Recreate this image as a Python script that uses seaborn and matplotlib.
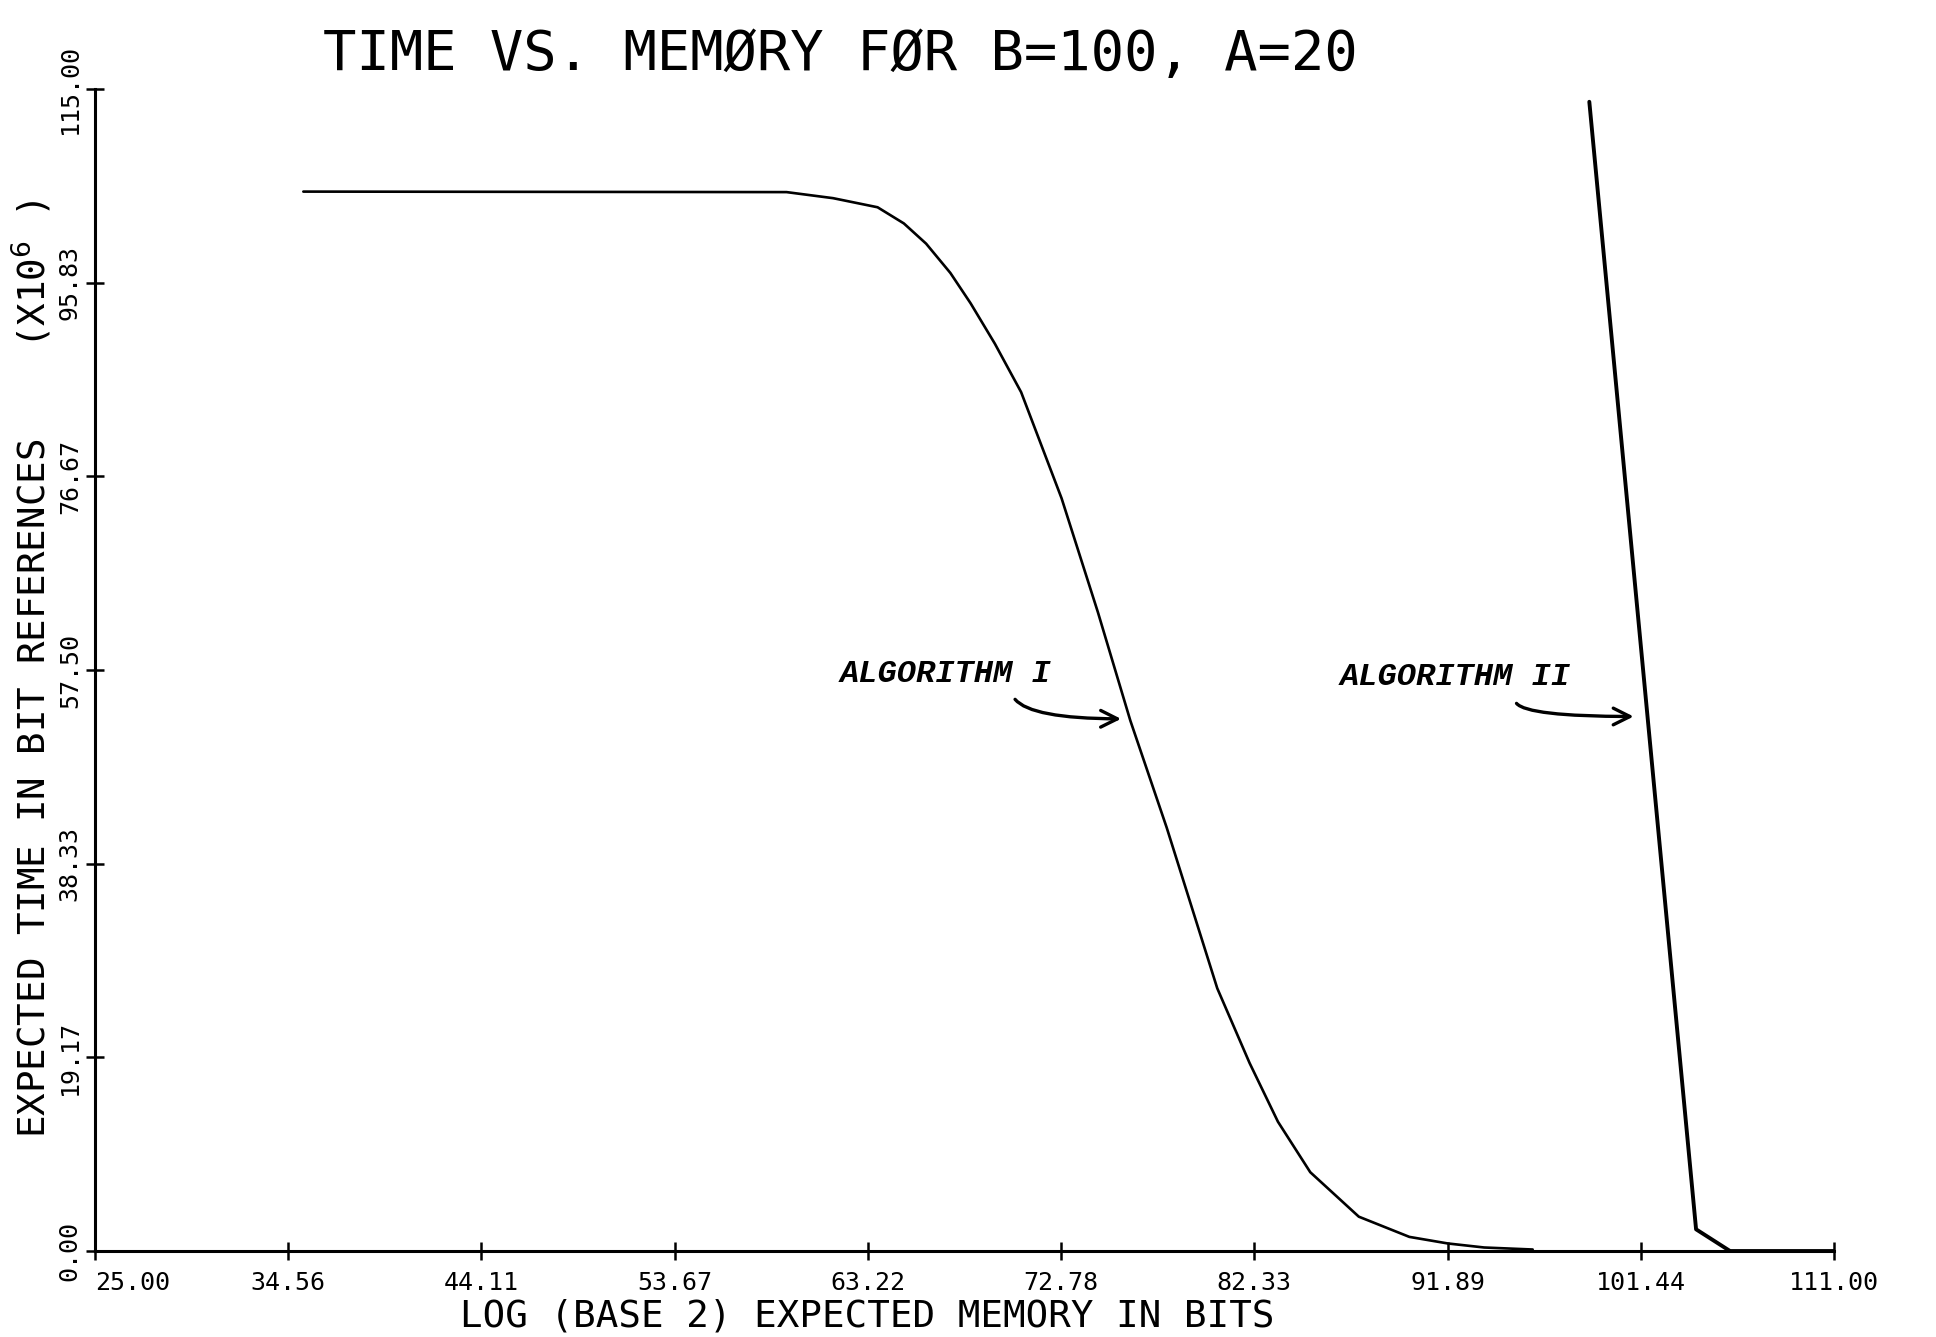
import matplotlib
matplotlib.use("Agg")
import matplotlib.pyplot as plt
import seaborn as sns
import pandas as pd

# ---- data ----
alg1_x = [35.3, 59.2, 61.5, 63.7, 65.0, 66.1, 67.3, 68.3, 69.5, 70.8, 72.8, 74.6,
          76.2, 78.0, 80.5, 82.1, 83.5, 85.1, 87.5, 90.0, 91.9, 93.7, 96.1]
alg1_y = [104.85, 104.8, 104.2, 103.3, 101.7, 99.7, 96.8, 93.8, 89.8, 85.0, 74.5,
          63.2, 52.5, 41.9, 26.0, 18.6, 12.8, 7.8, 3.4, 1.4, 0.75, 0.35, 0.15]
alg2_x = [98.9, 104.18, 105.86, 111.0]
alg2_y = [113.74, 2.15, 0.0, 0.0]

x_ticks = [25.00, 34.56, 44.11, 53.67, 63.22, 72.78, 82.33, 91.89, 101.44, 111.00]
x_tick_labels = ["25.00", "34.56", "44.11", "53.67", "63.22", "72.78", "82.33",
                 "91.89", "101.44", "111.00"]
y_ticks = [0.00, 19.17, 38.33, 57.50, 76.67, 95.83, 115.00]
y_tick_labels = ["0.00", "19.17", "38.33", "57.50", "76.67", "95.83", "115.00"]

title = "TIME VS. MEMØRY FØR B=100, A=20"
x_label = "LOG (BASE 2) EXPECTED MEMORY IN BITS"
y_label = "EXPECTED TIME IN BIT REFERENCES    (X10$^{6}$ )"

labels = ["ALGORITHM I", "ALGORITHM II"]
label_pos = [(61.83, 56.3), (86.57, 55.97)]
arrow_from = [(70.5, 54.6), (95.3, 54.2)]
arrow_to = [(75.88, 52.67), (101.23, 52.9)]

df1 = pd.DataFrame({"x": alg1_x, "y": alg1_y})
df2 = pd.DataFrame({"x": alg2_x, "y": alg2_y})

# ---- style ----
sns.set_theme(style="ticks")
plot_font = ["DejaVu Sans Mono", "DejaVu Sans"]
plt.rcParams["font.family"] = plot_font
plt.rcParams["mathtext.fontset"] = "dejavusans"

fig = plt.figure(figsize=(19.36, 13.37), dpi=100)
fig.patch.set_facecolor("white")
ax = fig.add_axes([0.0491, 0.0643, 0.8982, 0.8691])
ax.set_facecolor("white")

sns.lineplot(data=df1, x="x", y="y", ax=ax, color="black", linewidth=1.9,
             estimator=None, sort=False)
sns.lineplot(data=df2, x="x", y="y", ax=ax, color="black", linewidth=2.8,
             estimator=None, sort=False)

ax.set_xlim(25, 111)
ax.set_ylim(0, 115)

for s in ["top", "right"]:
    ax.spines[s].set_visible(False)
for s in ["left", "bottom"]:
    ax.spines[s].set_linewidth(2.2)
    ax.spines[s].set_color("black")

ax.set_xticks(x_ticks)
ax.set_xticklabels(x_tick_labels)
ax.set_yticks(y_ticks)
ax.set_yticklabels(y_tick_labels, rotation=90, va="center")
ax.tick_params(axis="both", direction="inout", length=13, width=1.8,
               colors="black", labelsize=18)
ax.tick_params(axis="x", pad=8)
ax.tick_params(axis="y", pad=3)
first = ax.get_xticklabels()[0]
first.set_horizontalalignment("left")

ax.set_xlabel("")
ax.set_ylabel("")

fig.text(0.1668, 0.9476, title, fontsize=40, ha="left", va="baseline",
         color="black", family=plot_font)
fig.text(0.448, 0.0075, x_label, fontsize=27, ha="center", va="baseline",
         color="black", family=plot_font)
fig.text(0.0165, 0.4996, y_label, fontsize=27, ha="center", va="center",
         rotation=90, color="black", family=plot_font)

anno_font = ["Liberation Mono", "DejaVu Sans Mono"]
for lab, (tx, ty), (fx, fy), (ex, ey) in zip(labels, label_pos, arrow_from, arrow_to):
    ax.text(tx, ty, lab, fontsize=23, fontweight="bold", fontstyle="italic",
            family=anno_font, ha="left", va="baseline", color="black")
    ax.annotate("", xy=(ex, ey), xytext=(fx, fy),
                arrowprops=dict(arrowstyle="->", color="black", lw=2.4,
                                mutation_scale=30, shrinkA=0, shrinkB=2,
                                connectionstyle="angle3,angleA=-50,angleB=0"))

fig.savefig("out.png", dpi=100, facecolor="white")
